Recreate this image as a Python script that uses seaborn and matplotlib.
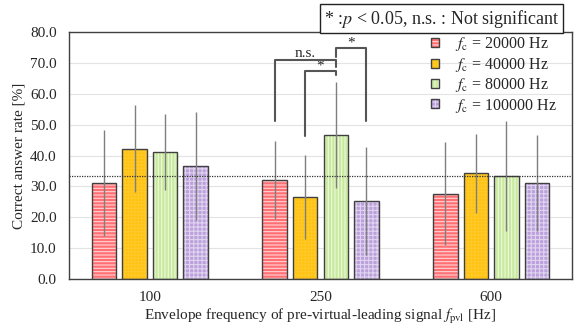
import pandas as pd
import matplotlib.pyplot as plt
import numpy as np
import seaborn as sns

# envelope frequency groups and carrier frequency series
freqs = ['100', '250', '600']
carriers = ['20000', '40000', '80000', '100000']

rate_20000 = [31.0, 32.1, 27.6]
rate_40000 = [42.2, 26.5, 34.2]
rate_80000 = [41.1, 46.6, 33.4]
rate_100000 = [36.6, 25.4, 31.0]

sd_20000 = [17.2, 12.7, 16.7]
sd_40000 = [14.0, 13.6, 12.9]
sd_80000 = [12.4, 17.1, 17.9]
sd_100000 = [17.4, 17.5, 15.6]

chance = 33.3

rates = [rate_20000, rate_40000, rate_80000, rate_100000]
sds = [sd_20000, sd_40000, sd_80000, sd_100000]

rows = []
for c, r in zip(carriers, rates):
    for f, v in zip(freqs, r):
        rows.append({'freq': f, 'fc': c, 'rate': v})
df = pd.DataFrame(rows)

colors = ['#FF6F73', '#FFC20E', '#C9EA9E', '#BBA0DC']
hatches = ['-----', '+++++', '|||||', '++++']
hatch_cols = [(1, 1, 1, 0.7), (1, 1, 1, 0.12), (1, 1, 1, 0.65), (1, 1, 1, 0.55)]

sns.set_style("whitegrid")
plt.rcParams['font.family'] = ['Liberation Serif', 'DejaVu Serif']
plt.rcParams['mathtext.fontset'] = 'stix'
plt.rcParams['hatch.linewidth'] = 0.8

fig = plt.figure(figsize=(5.82, 3.31), dpi=100)
ax = fig.add_axes([0.1186, 0.1571, 0.9828 - 0.1186, 0.9033 - 0.1571])

sns.barplot(data=df, x='freq', y='rate', hue='fc', hue_order=carriers,
            palette=colors, saturation=1, width=0.716, gap=0.2, errorbar=None,
            edgecolor='#404040', linewidth=1.0, ax=ax, zorder=2)

bar_conts = list(ax.containers)

# hatching + error bars
centers = []
for i, cont in enumerate(bar_conts):
    xs = []
    for p in cont.patches:
        p.set_hatch(hatches[i])
        p.set_edgecolor('#404040')
        p._hatch_color = hatch_cols[i]
        xs.append(p.get_x() + p.get_width() / 2)
    centers.append(xs)
    ax.errorbar(xs, rates[i], yerr=sds[i], fmt='none', ecolor='#7f7f7f',
                elinewidth=1.0, capsize=0, zorder=3)

ax.axhline(chance, ls=(0, (1, 1)), color='#333333', lw=0.9, zorder=4)

# significance brackets (group 250)
bc = '#555555'
x_r, x_o, x_g, x_p = centers[0][1], centers[1][1], centers[2][1], centers[3][1]
ax.plot([x_r, x_r, x_g, x_g], [51.2, 70.9, 70.9, 68.7], color=bc, lw=1.5, zorder=5)
ax.plot([x_o, x_o, x_g, x_g], [46.3, 67.4, 67.4, 66.0], color=bc, lw=1.5, zorder=5)
ax.plot([x_g, x_g, x_p, x_p], [72.0, 74.9, 74.9, 51.3], color=bc, lw=1.5, zorder=5)
ax.text((x_r + x_g) / 2, 71.0, 'n.s.', ha='center', va='bottom', fontsize=11)
ax.text((x_o + x_g) / 2, 66.8, '*', ha='center', va='bottom', fontsize=11)
ax.text((x_g + x_p) / 2, 74.3, '*', ha='center', va='bottom', fontsize=11)

ax.set_ylim(0, 80)
ax.set_yticks(np.arange(0, 81, 10))
ax.set_yticklabels([f'{v:.1f}' for v in np.arange(0, 81, 10)])
ax.tick_params(axis='y', labelsize=11, pad=9, length=0)
ax.tick_params(axis='x', labelsize=11, pad=9, length=0)
ax.grid(axis='y', color='#e3e3e3', lw=0.8)
ax.grid(axis='x', visible=False)
for s in ax.spines.values():
    s.set_color('#404040')
    s.set_linewidth(1.0)

ax.set_xlabel('Envelope frequency of pre-virtual-leading signal $f_\\mathrm{pvl}$ [Hz]',
              fontsize=11, labelpad=2)
ax.set_ylabel('Correct answer rate [%]', fontsize=11, labelpad=3)

handles = [cont.patches[0] for cont in bar_conts]
labels = ['$f_\\mathrm{c}$ = ' + c + ' Hz' for c in carriers]
ax.legend(handles, labels, loc='upper left', bbox_to_anchor=(0.70, 1.025),
          frameon=False, fontsize=11.5, handlelength=0.5, handleheight=0.5,
          handletextpad=1.0, labelspacing=0.15, borderaxespad=0.2)

fig.text(0.7586, 0.944, '* :$p$ < 0.05, n.s. : Not significant', ha='center',
         va='center', fontsize=13,
         bbox=dict(boxstyle='square,pad=0.2', fc='white', ec='#222222', lw=1.0))

plt.savefig('out.png', dpi=100)
